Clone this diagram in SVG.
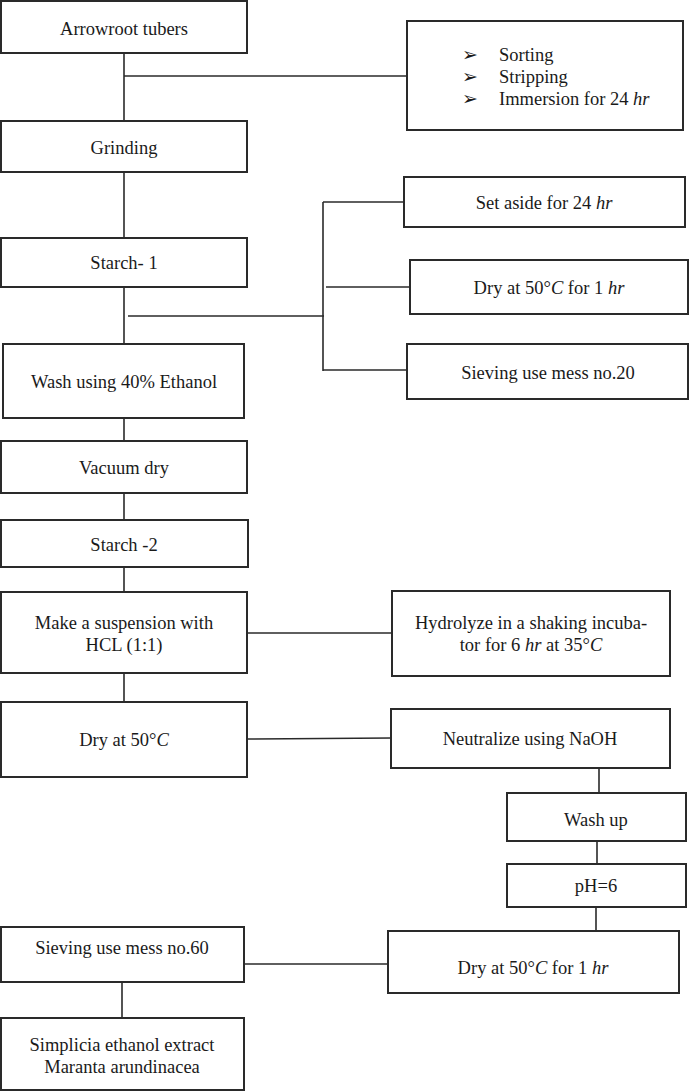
<svg xmlns="http://www.w3.org/2000/svg" width="690" height="1092" viewBox="0 0 690 1092">
<style>
.b{fill:#fff;stroke:#2a2a2a;stroke-width:2}
.c line{stroke:#2a2a2a;stroke-width:1.6}
text{font-family:"Liberation Serif","Times New Roman",serif;font-size:18.5px;fill:#1a1a1a;text-anchor:middle}
.l{text-anchor:start}
.i{font-style:italic}
.bul{font-family:"DejaVu Sans",sans-serif;font-size:19px;text-anchor:start}
</style>
<rect width="690" height="1092" fill="#fff"/>
<g class="c" id="connectors">
<line x1="124" y1="53" x2="124" y2="121"/>
<line x1="124" y1="76" x2="407" y2="76"/>
<line x1="124" y1="172" x2="124" y2="238"/>
<line x1="124" y1="287" x2="124" y2="344"/>
<line x1="128" y1="316" x2="324" y2="316"/>
<line x1="323" y1="202" x2="323" y2="371"/>
<line x1="323" y1="202" x2="404" y2="202"/>
<line x1="326" y1="287" x2="410" y2="287"/>
<line x1="323" y1="370" x2="407" y2="370"/>
<line x1="124" y1="418" x2="124" y2="441"/>
<line x1="124" y1="493" x2="124" y2="520"/>
<line x1="124" y1="567" x2="124" y2="592"/>
<line x1="247" y1="633" x2="392" y2="633"/>
<line x1="124" y1="673" x2="124" y2="702"/>
<line x1="247" y1="739" x2="391" y2="738"/>
<line x1="599" y1="768" x2="599" y2="793"/>
<line x1="597" y1="841" x2="597" y2="864"/>
<line x1="596" y1="907" x2="596" y2="931"/>
<line x1="244" y1="964" x2="388" y2="964"/>
<line x1="122" y1="982" x2="122" y2="1018"/>
</g>
<g id="n1"><rect class="b" x="1" y="1" width="246" height="52"/><text x="124" y="35">Arrowroot tubers</text></g>
<g id="n2"><rect class="b" x="407" y="21" width="276" height="109"/>
<text class="bul" x="462" y="61">➢</text><text class="l" x="499" y="61">Sorting</text>
<text class="bul" x="462" y="83">➢</text><text class="l" x="499" y="83">Stripping</text>
<text class="bul" x="462" y="105">➢</text><text class="l" x="499" y="105">Immersion for 24 <tspan class="i">hr</tspan></text></g>
<g id="n3"><rect class="b" x="1" y="121" width="246" height="51"/><text x="124" y="154">Grinding</text></g>
<g id="n4"><rect class="b" x="404" y="177" width="281" height="50"/><text x="544" y="209">Set aside for 24 <tspan class="i">hr</tspan></text></g>
<g id="n5"><rect class="b" x="1" y="238" width="246" height="49"/><text x="124" y="269">Starch- 1</text></g>
<g id="n6"><rect class="b" x="410" y="260" width="278" height="54"/><text x="549" y="294">Dry at 50°<tspan class="i">C</tspan> for 1 <tspan class="i">hr</tspan></text></g>
<g id="n7"><rect class="b" x="3" y="344" width="241" height="74"/><text x="124" y="388">Wash using 40% Ethanol</text></g>
<g id="n8"><rect class="b" x="407" y="344" width="281" height="55"/><text x="548" y="379">Sieving use mess no.20</text></g>
<g id="n9"><rect class="b" x="1" y="441" width="246" height="52"/><text x="124" y="474">Vacuum dry</text></g>
<g id="n10"><rect class="b" x="1" y="520" width="247" height="47"/><text x="124" y="551">Starch -2</text></g>
<g id="n11"><rect class="b" x="1" y="592" width="246" height="81"/><text x="124" y="629">Make a suspension with</text><text x="124" y="651">HCL (1:1)</text></g>
<g id="n12"><rect class="b" x="392" y="591" width="278" height="85"/><text x="531" y="629">Hydrolyze in a shaking incuba-</text><text x="531" y="651">tor for 6 <tspan class="i">hr</tspan> at 35°<tspan class="i">C</tspan></text></g>
<g id="n13"><rect class="b" x="1" y="702" width="246" height="75"/><text x="124" y="746">Dry at 50°<tspan class="i">C</tspan></text></g>
<g id="n14"><rect class="b" x="391" y="709" width="279" height="59"/><text x="530" y="745">Neutralize using NaOH</text></g>
<g id="n15"><rect class="b" x="507" y="793" width="179" height="48"/><text x="596" y="826">Wash up</text></g>
<g id="n16"><rect class="b" x="507" y="864" width="179" height="43"/><text x="596" y="892">pH=6</text></g>
<g id="n17"><rect class="b" x="1" y="927" width="243" height="55"/><text x="122" y="954">Sieving use mess no.60</text></g>
<g id="n18"><rect class="b" x="388" y="931" width="291" height="62"/><text x="533" y="974">Dry at 50°<tspan class="i">C</tspan> for 1 <tspan class="i">hr</tspan></text></g>
<g id="n19"><rect class="b" x="1" y="1018" width="243" height="72"/><text x="122" y="1051">Simplicia ethanol extract</text><text x="122" y="1073">Maranta arundinacea</text></g>
</svg>
